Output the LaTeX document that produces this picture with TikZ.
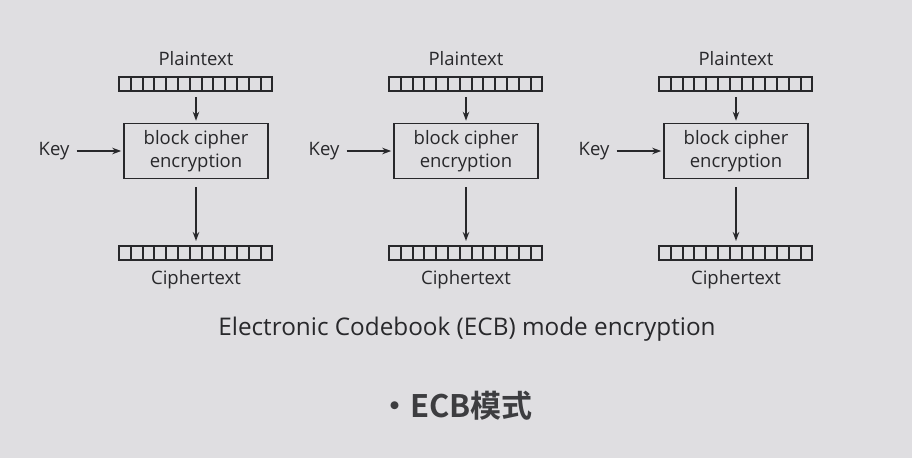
\documentclass[tikz,border=0pt]{standalone}
\usepackage{fontspec}
\setmainfont{Open Sans}
\newfontfamily\cjkbold[BoldFont=* Bold]{Noto Sans CJK SC}
\usetikzlibrary{arrows.meta}
\definecolor{bg}{RGB}{223,222,225}
\definecolor{ink}{RGB}{40,40,43}
\begin{document}
\begin{tikzpicture}[x=1pt,y=-1pt,
  lbl/.style={text=ink,font=\fontsize{18.5}{21}\selectfont,inner sep=0pt},
  cipherbox/.style={draw=ink,line width=1.6pt,minimum width=144pt,minimum height=55pt,align=center,text=ink,font=\fontsize{18.5}{22.5}\selectfont,inner sep=0pt},
  arr/.style={draw=ink,line width=1.5pt,-{Stealth[length=9pt,width=6.5pt]}},
  barcell/.style={draw=ink,line width=2pt}]
\fill[bg] (0,0) rectangle (912,458);
\useasboundingbox (0,0) rectangle (912,458);
\foreach \i/\dx in {1/0,2/270,3/540}{
  \begin{scope}[xshift=\dx pt]
    \node[lbl] (pt\i) at (196,59) {Plaintext};
    \coordinate (ptbar\i) at (196,91);
    \foreach \k in {0,...,12}{
      \draw[barcell] ({119+\k*11.8},77) rectangle ({119+(\k+1)*11.8},91);
      \draw[barcell] ({119+\k*11.8},246) rectangle ({119+(\k+1)*11.8},260);
    }
    \coordinate (ctbar\i) at (196,246);
    \node[cipherbox] (box\i) at (196,151) {\raisebox{-2pt}{block cipher}\\\raisebox{-2pt}{encryption}};
    \node[lbl] (key\i) at (54,151) {Key};
    \node[lbl] (ct\i) at (196,279.5) {Ciphertext};
    \draw[arr] ([yshift=-6pt]ptbar\i) -- ([yshift=2pt]box\i.north);
    \draw[arr] ([yshift=-8pt]box\i.south) -- ([yshift=5pt]ctbar\i);
    \draw[arr] ([xshift=7pt]key\i.east) -- ([xshift=-2pt]box\i.west);
  \end{scope}
}
\node[text=ink,font=\fontsize{24.3}{28}\selectfont,inner sep=0pt] (cap) at (467,329.5) {Electronic Codebook (ECB) mode encryption};
\node[text=ink!90,font=\cjkbold\bfseries\fontsize{31}{34}\selectfont,inner sep=0pt] (ecb) at (456,406) {·ECB模式};
\end{tikzpicture}
\end{document}
